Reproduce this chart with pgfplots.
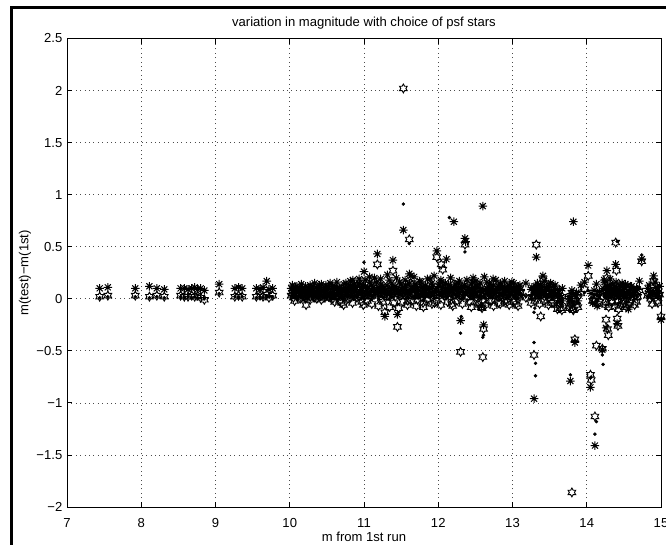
\documentclass[border=0pt]{standalone}
\usepackage{fontspec}
\setmainfont{Liberation Sans}
\usepackage{pgfplots}
\usepackage{pgfplotstable}
\pgfplotsset{compat=1.18}

\pgfdeclareplotmark{mstar}{%
  \pgfpathmoveto{\pgfpoint{-\pgfplotmarksize}{0pt}}\pgfpathlineto{\pgfpoint{\pgfplotmarksize}{0pt}}%
  \pgfpathmoveto{\pgfpoint{0pt}{-\pgfplotmarksize}}\pgfpathlineto{\pgfpoint{0pt}{\pgfplotmarksize}}%
  \pgfpathmoveto{\pgfpoint{-0.7071\pgfplotmarksize}{-0.7071\pgfplotmarksize}}\pgfpathlineto{\pgfpoint{0.7071\pgfplotmarksize}{0.7071\pgfplotmarksize}}%
  \pgfpathmoveto{\pgfpoint{-0.7071\pgfplotmarksize}{0.7071\pgfplotmarksize}}\pgfpathlineto{\pgfpoint{0.7071\pgfplotmarksize}{-0.7071\pgfplotmarksize}}%
  \pgfusepathqstroke}
\pgfdeclareplotmark{hexagram}{%
  \pgfpathmoveto{\pgfpointpolar{90}{\pgfplotmarksize}}%
  \pgfpathlineto{\pgfpointpolar{60}{0.5774\pgfplotmarksize}}%
  \pgfpathlineto{\pgfpointpolar{30}{\pgfplotmarksize}}%
  \pgfpathlineto{\pgfpointpolar{0}{0.5774\pgfplotmarksize}}%
  \pgfpathlineto{\pgfpointpolar{-30}{\pgfplotmarksize}}%
  \pgfpathlineto{\pgfpointpolar{-60}{0.5774\pgfplotmarksize}}%
  \pgfpathlineto{\pgfpointpolar{-90}{\pgfplotmarksize}}%
  \pgfpathlineto{\pgfpointpolar{-120}{0.5774\pgfplotmarksize}}%
  \pgfpathlineto{\pgfpointpolar{-150}{\pgfplotmarksize}}%
  \pgfpathlineto{\pgfpointpolar{180}{0.5774\pgfplotmarksize}}%
  \pgfpathlineto{\pgfpointpolar{150}{\pgfplotmarksize}}%
  \pgfpathlineto{\pgfpointpolar{120}{0.5774\pgfplotmarksize}}%
  \pgfpathclose\pgfusepathqstroke}

% x, asterisk series, hexagram series, dot series
\pgfplotstableread{
x a h d
7.44 0.10 0.02 0.01
7.55 0.11 0.03 0.02
7.92 0.10 0.03 0.02
8.11 0.12 0.02 0.01
8.21 0.10 0.03 0.02
8.31 0.09 0.02 0.01
8.53 0.10 0.03 0.02
8.58 0.10 0.02 0.01
8.63 0.09 0.02 0.02
8.68 0.10 0.03 0.01
8.72 0.11 0.02 0.02
8.76 0.09 0.03 0.01
8.80 0.10 0.01 0.01
8.85 0.08 -0.01 0.00
9.05 0.14 0.06 0.05
9.26 0.10 0.02 0.02
9.31 0.11 0.03 0.01
9.36 0.10 0.02 0.02
9.55 0.10 0.02 0.01
9.60 0.09 0.03 0.02
9.64 0.11 0.02 0.01
9.69 0.17 0.04 0.03
9.72 0.09 0.01 0.02
9.77 0.10 0.03 0.02
10.02 0.10 0.03 0.02
10.05 0.08 0.01 0.02
10.08 0.11 0.04 0.03
10.11 0.07 0.02 0.01
10.14 0.09 0.00 0.02
10.17 0.10 0.03 0.02
10.20 0.06 0.02 0.03
10.22 0.08 -0.06 0.00
10.25 0.11 0.04 0.02
10.28 0.09 0.02 0.03
10.31 0.12 0.03 0.04
10.34 0.07 0.01 0.02
10.37 0.10 0.05 0.03
10.40 0.13 0.02 0.04
10.43 0.08 0.03 0.02
10.46 0.11 0.01 0.03
10.49 0.09 0.04 0.02
10.52 0.12 0.02 0.03
10.55 0.06 0.03 0.01
10.58 0.10 0.00 0.02
10.61 0.12 0.05 0.04
10.64 0.08 0.02 0.03
10.67 0.10 -0.02 0.01
10.70 0.09 -0.04 0.00
10.73 0.14 0.03 0.02
10.76 0.07 0.02 0.03
10.79 0.11 0.06 0.04
10.82 0.13 0.01 0.02
10.85 0.18 0.08 0.05
10.88 0.09 0.03 0.02
10.91 0.12 0.05 0.03
10.94 0.15 0.02 0.04
10.97 0.08 -0.03 0.01
11.00 0.26 0.10 0.35
11.02 0.12 0.04 0.03
11.05 0.10 0.06 0.05
11.08 0.16 0.02 0.04
11.11 0.07 0.03 0.02
11.14 0.20 0.08 0.06
11.18 0.43 0.33 0.10
11.20 0.11 0.05 0.03
11.23 0.14 0.00 0.02
11.26 0.09 0.04 0.05
11.28 -0.17 -0.13 -0.15
11.31 0.13 0.06 0.04
11.34 0.18 0.03 0.06
11.37 0.10 0.05 0.02
11.39 0.37 0.27 0.12
11.42 0.12 0.02 0.04
11.45 -0.15 -0.27 -0.05
11.48 0.16 0.07 0.05
11.50 0.09 0.04 0.03
11.53 0.66 2.02 0.91
11.56 0.13 0.05 0.04
11.59 0.08 -0.02 0.02
11.61 0.24 0.57 0.53
11.63 0.22 0.15 0.06
11.66 0.10 0.03 0.02
11.69 0.14 0.06 0.05
11.72 0.07 -0.01 0.01
11.75 0.17 0.05 0.04
11.78 0.11 0.02 0.03
11.80 0.05 -0.08 -0.02
11.83 0.13 0.07 0.05
11.86 0.09 0.00 0.02
11.89 0.19 0.04 0.06
11.92 0.12 0.08 0.03
11.95 0.06 -0.04 0.01
11.98 0.46 0.40 0.10
12.01 0.14 0.05 0.04
12.04 0.16 0.33 0.05
12.06 0.11 0.28 0.04
12.09 0.08 0.03 0.02
12.11 0.38 0.12 0.07
12.14 0.13 0.06 0.05
12.15 0.06 0.01 0.78
12.18 0.10 -0.05 0.02
12.21 0.74 0.14 0.05
12.24 0.09 0.04 0.03
12.27 0.15 0.02 0.06
12.30 -0.21 -0.51 -0.33
12.31 0.10 0.03 -0.17
12.33 0.12 0.05 0.04
12.36 0.58 0.52 0.45
12.37 0.55 0.08 0.05
12.40 0.11 0.02 0.03
12.43 0.08 -0.03 0.02
12.46 0.16 0.07 0.05
12.47 0.20 0.04 0.03
12.49 0.10 0.04 0.03
12.52 0.13 0.01 0.04
12.55 0.07 -0.06 0.01
12.58 -0.07 -0.08 0.00
12.59 0.10 -0.09 0.02
12.60 0.89 -0.56 -0.37
12.61 -0.25 -0.29 -0.35
12.62 0.21 0.04 0.03
12.66 0.09 0.02 0.05
12.69 0.14 0.06 0.04
12.72 0.10 -0.02 0.02
12.74 0.19 0.05 0.06
12.78 0.08 0.03 0.01
12.81 0.12 -0.04 0.03
12.84 0.15 0.07 0.05
12.87 0.06 0.01 0.02
12.90 0.11 0.04 0.04
12.93 0.09 -0.03 0.01
12.96 0.13 0.05 0.03
12.99 0.16 0.02 0.05
13.02 0.10 0.04 0.02
13.05 0.07 -0.05 0.01
13.08 0.12 0.03 0.04
13.11 0.09 0.06 0.03
13.18 0.15 0.01 0.02
13.26 0.11 0.02 0.03
13.29 -0.96 -0.54 -0.42
13.29 0.08 0.02 -0.13
13.30 0.06 -0.02 -0.09
13.31 0.09 0.03 -0.62
13.31 0.12 0.05 -0.74
13.32 0.40 0.52 0.03
13.35 0.10 0.04 0.02
13.38 0.13 -0.17 0.03
13.41 0.22 0.19 0.06
13.43 0.08 0.02 0.03
13.46 0.11 0.05 0.01
13.49 0.14 0.01 0.04
13.52 0.07 -0.04 0.02
13.55 0.12 0.03 0.03
13.58 0.09 0.06 0.05
13.61 0.05 -0.06 -0.02
13.64 0.03 -0.09 -0.03
13.67 0.10 0.02 0.01
13.76 0.02 -0.07 -0.01
13.78 -0.79 -0.05 -0.73
13.80 0.08 -1.86 0.02
13.82 0.74 -0.11 0.05
13.84 -0.42 -0.39 -0.40
13.86 0.06 -0.06 0.01
13.92 0.13 0.05 0.04
13.97 0.16 0.09 0.06
14.02 0.32 0.22 0.08
14.05 -0.85 -0.73 -0.76
14.06 0.05 -0.78 0.01
14.08 -0.04 -0.02 -0.05
14.11 -1.41 -1.13 -1.30
14.13 0.14 -0.45 -1.18
14.14 -0.07 0.02 0.03
14.17 0.07 -0.03 0.01
14.21 -0.49 -0.48 -0.54
14.22 0.10 0.02 -0.63
14.24 0.16 0.06 0.04
14.26 -0.28 -0.20 -0.06
14.27 0.27 0.20 0.07
14.28 0.12 -0.29 0.03
14.29 0.08 -0.35 0.02
14.31 0.13 0.05 0.04
14.34 0.06 -0.02 0.02
14.37 0.11 0.04 0.05
14.39 0.33 0.54 0.06
14.40 0.10 0.27 0.03
14.41 -0.24 -0.19 0.55
14.42 0.07 -0.26 0.01
14.43 0.02 -0.10 -0.04
14.46 0.12 0.03 0.04
14.49 0.09 -0.02 0.02
14.52 0.14 0.06 0.03
14.56 -0.10 -0.06 -0.03
14.59 0.11 0.04 0.05
14.63 0.06 0.01 0.02
14.67 0.10 -0.03 0.03
14.71 0.17 0.08 0.04
14.74 0.38 0.36 0.42
14.82 0.10 0.03 0.02
14.86 0.07 0.00 0.01
14.90 0.22 0.17 0.06
14.93 0.11 0.05 0.03
14.96 0.05 -0.04 0.01
15.00 -0.20 -0.17 -0.19
10.035 0.13 0.06 0.04
10.065 0.05 -0.02 0.01
10.095 0.12 0.03 0.02
10.125 0.09 0.07 0.05
10.155 0.14 0.01 0.03
10.185 0.08 0.04 0.02
10.215 0.12 0.00 0.04
10.245 0.05 0.06 0.01
10.275 0.13 -0.01 0.03
10.305 0.08 0.05 0.02
10.335 0.15 0.02 0.05
10.365 0.06 0.00 0.01
10.395 0.11 0.06 0.03
10.425 0.14 -0.01 0.04
10.455 0.07 0.05 0.02
10.485 0.13 0.02 0.03
10.515 0.09 0.07 0.05
10.545 0.15 0.01 0.02
10.575 0.12 0.04 0.04
10.605 0.05 -0.03 0.00
10.635 0.16 0.07 0.05
10.665 0.11 0.03 0.02
10.695 0.06 0.05 0.03
10.725 0.10 -0.06 0.01
10.755 0.15 0.04 0.04
10.785 0.08 0.00 0.02
10.815 0.17 0.07 0.06
10.845 0.10 -0.04 0.01
10.875 0.14 0.05 0.03
10.905 0.06 0.01 0.02
10.935 0.19 0.09 0.06
10.965 0.11 0.03 0.04
10.99 0.13 -0.06 0.02
11.015 0.18 0.07 0.05
11.045 0.05 -0.02 0.01
11.075 0.21 0.09 0.06
11.105 0.13 -0.05 0.02
11.135 0.09 0.04 0.03
11.165 0.16 0.10 0.07
11.195 0.06 -0.07 0.00
11.225 0.19 0.06 0.05
11.255 0.12 -0.03 0.02
11.285 0.08 0.08 0.04
11.315 0.23 0.03 0.06
11.345 0.04 -0.08 -0.01
11.375 0.15 0.09 0.05
11.405 0.10 -0.04 0.02
11.435 0.20 0.06 0.07
11.465 0.07 -0.09 0.01
11.495 0.14 0.10 0.05
11.525 0.11 -0.03 0.02
11.555 0.18 0.07 0.06
11.585 0.05 -0.06 0.01
11.615 0.15 0.09 0.04
11.645 0.09 -0.02 0.02
11.675 0.21 0.06 0.07
11.705 0.12 -0.07 0.01
11.735 0.08 0.04 0.03
11.765 0.16 0.10 0.05
11.795 0.11 -0.04 0.02
11.825 0.06 0.06 0.03
11.855 0.19 -0.01 0.05
11.885 0.10 0.08 0.02
11.915 0.15 -0.05 0.04
11.945 0.22 0.05 0.06
11.975 0.07 -0.02 0.01
12.005 0.12 0.09 0.04
12.035 0.18 -0.06 0.03
12.065 0.05 0.04 0.02
12.095 0.15 0.10 0.05
12.125 0.10 -0.03 0.02
12.165 0.20 0.06 0.06
12.195 0.08 -0.07 0.01
12.225 0.14 0.08 0.04
12.255 0.11 -0.02 0.03
12.285 0.17 0.05 0.05
12.325 0.07 -0.05 0.01
12.355 0.13 0.09 0.04
12.385 0.18 0.01 0.05
12.415 0.09 0.06 0.02
12.445 0.14 -0.08 0.03
12.475 0.06 0.03 0.02
12.505 0.17 0.08 0.05
12.535 0.11 -0.04 0.02
12.565 0.15 0.05 0.04
12.635 0.08 -0.06 0.01
12.655 0.16 0.07 0.05
12.685 0.11 -0.02 0.03
12.715 0.06 0.05 0.02
12.745 0.13 -0.07 0.03
12.775 0.18 0.08 0.06
12.805 0.09 0.02 0.02
12.835 0.14 -0.05 0.04
12.865 0.11 0.06 0.03
12.895 0.17 -0.02 0.05
12.925 0.07 0.07 0.02
12.955 0.12 -0.06 0.03
12.985 0.10 0.04 0.04
13.015 0.15 -0.03 0.03
13.045 0.11 0.06 0.05
13.075 0.06 -0.07 0.01
13.10 0.13 0.02 0.04
13.25 0.09 -0.04 0.02
13.335 0.15 0.07 0.05
13.365 0.07 -0.05 0.01
13.395 0.12 0.04 0.04
13.425 0.17 -0.02 0.03
13.455 0.09 0.06 0.05
13.485 0.11 -0.06 0.02
13.515 0.15 0.03 0.04
13.545 0.06 -0.04 0.01
13.575 0.13 0.07 0.05
13.605 0.02 -0.10 -0.04
13.635 0.08 -0.04 0.00
13.665 -0.02 -0.11 -0.05
13.77 0.00 -0.09 -0.03
13.79 0.05 -0.04 0.01
13.81 -0.03 -0.10 -0.05
13.85 0.04 -0.02 0.02
13.88 -0.02 -0.08 -0.04
14.10 0.08 -0.02 0.03
14.15 0.03 -0.05 -0.02
14.235 0.18 0.05 0.05
14.255 0.05 -0.06 0.01
14.275 0.12 0.03 0.04
14.295 0.02 -0.08 -0.02
14.315 0.19 0.07 0.06
14.335 0.09 -0.04 0.02
14.355 0.14 0.04 0.04
14.375 0.04 -0.07 0.00
14.395 0.16 0.09 0.05
14.415 0.08 -0.03 0.02
14.435 0.13 0.05 0.03
14.455 0.03 -0.06 0.00
14.475 0.15 0.02 0.04
14.495 0.07 -0.05 0.01
14.515 0.11 0.06 0.03
14.535 0.01 -0.08 -0.03
14.555 0.13 0.03 0.04
14.575 0.06 -0.04 0.01
14.605 0.12 0.05 0.03
14.645 0.04 -0.06 0.00
14.685 0.09 0.02 0.02
14.84 0.13 0.05 0.04
14.88 0.04 -0.05 0.00
14.92 0.16 0.08 0.05
14.95 0.08 -0.02 0.02
14.98 0.12 0.04 0.03
}\stars

\begin{document}
\begin{tikzpicture}
\useasboundingbox (0,0) rectangle (499.5pt,408pt);
\draw[line width=2.25pt] (8.6pt,-3pt) -- (8.6pt,402.4pt) -- (505pt,402.4pt);
\begin{axis}[
  at={(50.25pt,27.75pt)}, anchor=south west,
  scale only axis, width=445.5pt, height=351.4pt,
  xmin=7, xmax=15, ymin=-2, ymax=2.5,
  xtick={7,8,...,15}, xticklabels={7,8,9,10,11,12,13,14,15},
  ytick={-2,-1.5,...,2.5},
  yticklabels={−2,−1.5,−1,−0.5,0,0.5,1,1.5,2,2.5},
  tick align=inside, tick pos=both,
  major tick length=4pt,
  every tick/.style={black, line width=0.6pt},
  axis line style={line width=0.75pt},
  grid=major,
  grid style={black!70, line width=0.5pt, dash pattern=on 0.7pt off 2.6pt},
  tick label style={font=\fontsize{9.8}{11}\selectfont},
  xticklabel style={anchor=base, yshift=-15pt, inner sep=0pt},
  label style={font=\fontsize{9.8}{11}\selectfont},
  every axis title shift=0pt,
  title style={font=\fontsize{9.8}{11}\selectfont, at={(axis description cs:0.5,1.0245)}, anchor=base, inner sep=0pt},
  xlabel style={at={(axis description cs:0.5,-0.0737)}, anchor=base, inner sep=0pt},
  ylabel style={at={(axis description cs:-0.0707,0.5)}, anchor=center, inner sep=0pt},
  title={variation in magnitude with choice of psf stars},
  xlabel={m from 1st run},
  ylabel={m(test)−m(1st)},
  clip=false,
]
\addplot[only marks, mark=mstar, mark size=3.2pt, line width=0.75pt, black] table[x=x, y=a] {\stars};
\addplot[only marks, mark=hexagram, mark size=3.3pt, line width=0.7pt, black] table[x=x, y=h] {\stars};
\addplot[only marks, mark=*, mark size=1.1pt, black] table[x=x, y=d] {\stars};
\end{axis}
\end{tikzpicture}
\end{document}
